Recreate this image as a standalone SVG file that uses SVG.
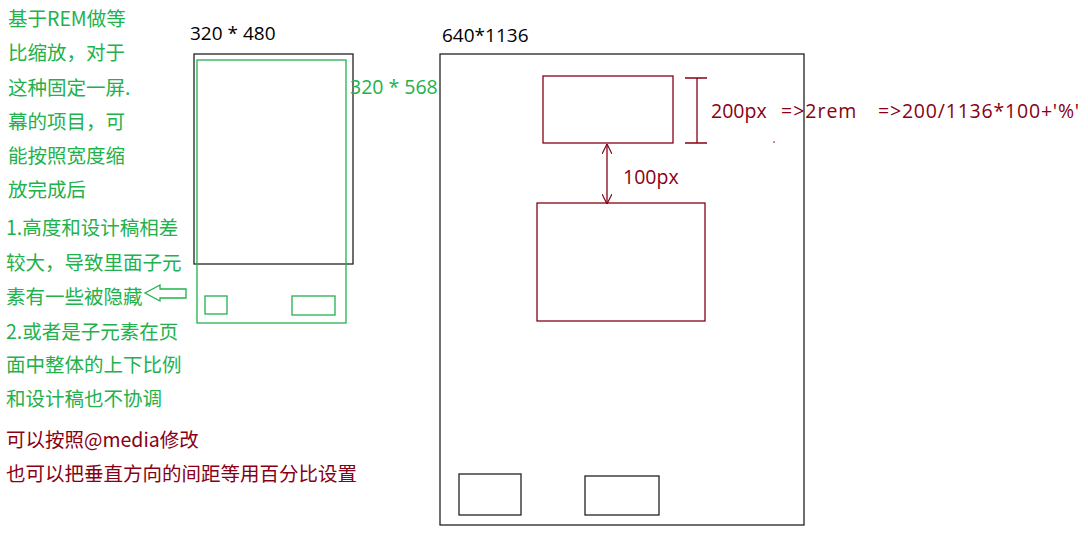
<svg xmlns="http://www.w3.org/2000/svg" width="1088" height="536" viewBox="0 0 1088 536">
<defs>
<style>
.g{fill:#22b14c;font-family:"Noto Sans CJK SC","Microsoft YaHei",sans-serif;font-size:19.5px}
.r{fill:#880015;font-family:"Noto Sans CJK SC","Microsoft YaHei",sans-serif;font-size:19.5px}
.rl{fill:#880015;font-family:"Open Sans","Noto Sans",sans-serif;font-size:19.5px}
.k{fill:#000;font-family:"Open Sans","Noto Sans",sans-serif;font-size:19px}
.bk{fill:none;stroke:#222;stroke-width:1.3}
.gr{fill:none;stroke:#22b14c;stroke-width:1.3}
.rd{fill:none;stroke:#880015;stroke-width:1.3}
</style>
<marker id="ah" viewBox="0 0 10 10" refX="10" refY="5" markerWidth="10" markerHeight="10" orient="auto-start-reverse" markerUnits="userSpaceOnUse">
<path d="M0,0 L10,5 L0,10" fill="none" stroke="#880015" stroke-width="1.2"/>
</marker>
</defs>
<rect width="1088" height="536" fill="#fff"/>
<g id="notes">
<text class="g" x="8" y="26">基于REM做等</text>
<text class="g" x="8" y="60">比缩放，对于</text>
<text class="g" x="8" y="95">这种固定一屏.</text>
<text class="g" x="8" y="129">幕的项目，可</text>
<text class="g" x="8" y="163">能按照宽度缩</text>
<text class="g" x="8" y="197">放完成后</text>
<text class="g" x="6" y="235">1.高度和设计稿相差</text>
<text class="g" x="6" y="270">较大，导致里面子元</text>
<text class="g" x="6" y="304">素有一些被隐藏</text>
<text class="g" x="6" y="339">2.或者是子元素在页</text>
<text class="g" x="6" y="372">面中整体的上下比例</text>
<text class="g" x="6" y="406">和设计稿也不协调</text>
<text class="r" x="6" y="447">可以按照@media修改</text>
<text class="r" x="6" y="481">也可以把垂直方向的间距等用百分比设置</text>
</g>
<g id="small-screen">
<text class="k" x="190" y="40">320 * 480</text>
<rect class="bk" x="194" y="54" width="159" height="210"/>
</g>
<g id="tall-screen">
<rect class="gr" x="197" y="60" width="149" height="263"/>
<text x="350" y="94" style="fill:#22b14c;font-family:'Open Sans','Noto Sans',sans-serif;font-size:19.5px">320 * 568</text>
<rect class="gr" x="205" y="296" width="22" height="18"/>
<rect class="gr" x="292" y="296" width="43" height="19"/>
</g>
<g id="design">
<text class="k" x="442" y="42">640*1136</text>
<rect class="bk" x="440" y="54" width="364" height="471"/>
<rect class="rd" x="543" y="76" width="130" height="67"/>
<rect class="rd" x="537" y="203" width="168" height="118"/>
<rect class="bk" x="459" y="474" width="62" height="41"/>
<rect class="bk" x="585" y="476" width="74" height="39"/>
<text class="rl" x="711" y="118">200px</text>
<text class="rl" x="781" y="118" letter-spacing="1">=&gt;2rem</text>
<text class="rl" x="878" y="118" letter-spacing="0.8">=&gt;200/1136*100+'%'</text>
<text class="rl" x="623" y="184">100px</text>
<circle cx="774" cy="142" r="0.8" fill="#880015"/>
</g>
<g id="connectors">
<path d="M186,289 L160,289 L160,285 L145,293 L160,301 L160,298 L186,298 Z" fill="#fff" stroke="#22b14c" stroke-width="1.3"/>
<path class="rd" d="M685,78 H707 M697,78 V143 M685,143 H707"/>
<line class="rd" x1="607" y1="144" x2="607" y2="204" marker-start="url(#ah)" marker-end="url(#ah)"/>
</g>
</svg>
